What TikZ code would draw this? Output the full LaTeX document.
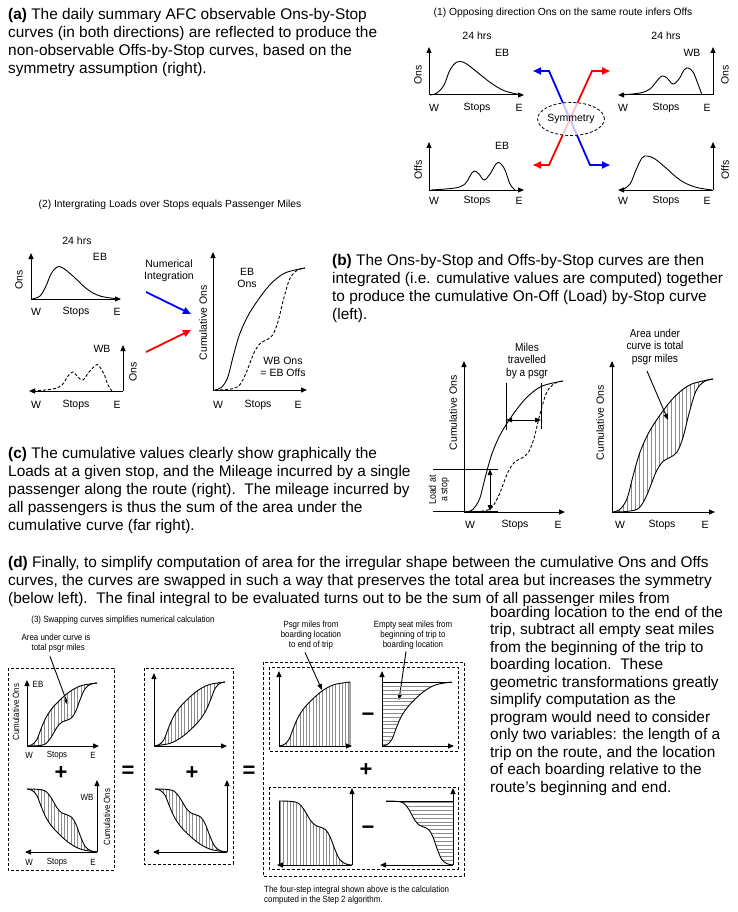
\documentclass[tikz,border=0pt]{standalone}
\usepackage{fontspec}
\setmainfont{Liberation Sans}
\newfontfamily\narrowfont[FakeStretch=0.88]{Liberation Sans}
\usetikzlibrary{arrows.meta,shapes.geometric}
\tikzset{
 body/.style={anchor=base west, inner sep=0pt, font=\fontsize{15.4}{18}\selectfont},
 lbl/.style={inner sep=0pt, font=\fontsize{10.5}{12}\selectfont},
 ttl/.style={inner sep=0pt, font=\fontsize{10.3}{12}\selectfont},
 sml/.style={inner sep=0pt, font=\narrowfont\fontsize{9}{10}\selectfont},
 mid/.style={inner sep=0pt, align=center, font=\narrowfont\fontsize{11.5}{12.5}\selectfont},
 sym/.style={inner sep=0pt, font=\bfseries\fontsize{22}{24}\selectfont},
 axis/.style={line width=1.2pt, -{Triangle[length=7pt,width=6pt]}},
 saxis/.style={line width=1pt, -{Triangle[length=6pt,width=5pt]}},
 crv/.style={line width=0.9pt},
 dcrv/.style={line width=0.9pt, dash pattern=on 3pt off 2pt},
 dbox/.style={line width=0.8pt, dash pattern=on 3pt off 2pt},
 hatch/.style={black!45, line width=1pt},
 ptr/.style={line width=0.9pt, -{Triangle[length=6pt,width=4.5pt]}},
 dptr/.style={line width=0.9pt, {Triangle[length=6pt,width=4.5pt]}-{Triangle[length=6pt,width=4.5pt]}},
 carrow/.style={line width=1.8pt, {Triangle[length=8pt,width=7pt]}-{Triangle[length=8pt,width=7pt]}},
 sarrow/.style={line width=1.8pt, -{Triangle[length=8pt,width=7pt]}},
 Uc/.style={insert path={plot[smooth,tension=0.55] coordinates {(0,0) (0.07,0.02) (0.14,0.1) (0.2,0.27) (0.27,0.45) (0.36,0.6) (0.48,0.74) (0.62,0.87) (0.78,0.96) (1,1)}}},
 Lc/.style={insert path={plot[smooth,tension=0.55] coordinates {(0,0) (0.15,0.005) (0.26,0.03) (0.34,0.13) (0.43,0.3) (0.5,0.38) (0.57,0.41) (0.64,0.45) (0.7,0.56) (0.76,0.74) (0.83,0.91) (0.91,0.98) (1,1)}}},
 Mc/.style={insert path={plot[smooth,tension=0.55] coordinates {(0,0) (0.22,0.04) (0.38,0.13) (0.52,0.26) (0.64,0.4) (0.73,0.55) (0.8,0.73) (0.86,0.9) (0.93,0.98) (1,1)}}},
}
\newcommand\hatchV[1]{\foreach \u in {#1,...,1.0} {\draw[hatch] (\u,-0.2) -- (\u,1.2);}}
\newcommand\hatchH[1]{\foreach \v in {#1,...,1.0} {\draw[hatch] (-0.2,\v) -- (1.2,\v);}}
\begin{document}
\begin{tikzpicture}[x=1pt,y=-1pt]
\useasboundingbox (0,0) rectangle (738,912);
\fill[white] (0,0) rectangle (738,912);

% ---------------- paragraph (a)
\node[body] (pa1) at (8,20) {\textbf{(a)} The daily summary AFC observable Ons-by-Stop};
\node[body] (pa2) at (8,38) {curves (in both directions) are reflected to produce the};
\node[body] (pa3) at (8,56) {non-observable Offs-by-Stop curves, based on the};
\node[body] (pa4) at (8,74) {symmetry assumption (right).};

% ---------------- panel (1)
\node[ttl] (t1) at (563,13) {(1) Opposing direction Ons on the same route infers Offs};
% top-left EB Ons
\draw[saxis] (429,95) -- (429,47);
\draw[saxis] (429,95) -- (524,95);
\draw[crv] plot[smooth,tension=0.6] coordinates {(430,95) (437,93) (444,85) (450,70) (457,62) (465,63) (477,72) (491,83) (505,91) (522,95)};
\node[lbl] (h1) at (477,36) {24 hrs};
\node[lbl] (e1) at (502,53) {EB};
\node[lbl,rotate=90] (o1) at (418,75) {Ons};
\node[lbl] (w1) at (434,108) {W};
\node[lbl] (s1) at (477,108) {Stops};
\node[lbl] (ee1) at (519,108) {E};
% top-right WB Ons
\draw[saxis] (713,95) -- (713,47);
\draw[saxis] (713,95) -- (618,95);
\draw[crv] plot[smooth,tension=0.6] coordinates {(621,95) (640,93) (650,89) (656,82) (662,76) (667,78) (673,84) (679,79) (684,70) (688,68) (693,72) (698,84) (702,95)};
\node[lbl] (h2) at (666,36) {24 hrs};
\node[lbl] (e2) at (692,53) {WB};
\node[lbl,rotate=90] (o2) at (725,75) {Ons};
\node[lbl] (w2) at (623,108) {W};
\node[lbl] (s2) at (666,108) {Stops};
\node[lbl] (ee2) at (707,108) {E};
% bottom-left EB Offs
\draw[saxis] (429,190) -- (429,142);
\draw[saxis] (429,190) -- (524,190);
\draw[crv] plot[smooth,tension=0.6] coordinates {(431,190) (455,188) (465,184) (470,176) (474,171) (479,174) (484,180) (490,174) (496,164) (500,163) (505,170) (510,184) (515,190)};
\node[lbl] (e3) at (502,146) {EB};
\node[lbl,rotate=90] (o3) at (418,170) {Offs};
\node[lbl] (w3) at (434,201) {W};
\node[lbl] (s3) at (477,201) {Stops};
\node[lbl] (ee3) at (519,201) {E};
% bottom-right WB Offs
\draw[saxis] (713,190) -- (713,142);
\draw[saxis] (713,190) -- (618,190);
\draw[crv] plot[smooth,tension=0.6] coordinates {(622,190) (630,184) (636,170) (642,158) (647,156) (655,159) (666,168) (680,180) (695,187) (712,190)};
\node[lbl,rotate=90] (o4) at (725,170) {Offs};
\node[lbl] (w4) at (623,201) {W};
\node[lbl] (s4) at (666,201) {Stops};
\node[lbl] (ee4) at (707,201) {E};
% symmetry arrows
\coordinate (bA) at (533,71); \coordinate (bB) at (549,71);
\coordinate (bC) at (590,165); \coordinate (bD) at (610,165);
\coordinate (rA) at (533,165); \coordinate (rB) at (549,165);
\coordinate (rC) at (592,71); \coordinate (rD) at (610,71);
\draw[carrow, blue] (bA) -- (bB) -- (bC) -- (bD);
\draw[carrow, red] (rA) -- (rB) -- (rC) -- (rD);
\node[ellipse, draw, dbox, fill=white, fill opacity=0.75, text opacity=1, minimum width=64pt, minimum height=33pt, inner sep=0pt, font=\fontsize{10.5}{12}\selectfont] (symm) at (571,119) {Symmetry};

% ---------------- panel (2)
\node[ttl] (t2) at (170,205) {(2) Intergrating Loads over Stops equals Passenger Miles};
% EB ons
\draw[saxis] (31,299) -- (31,253);
\draw[saxis] (31,299) -- (121,299);
\draw[crv] plot[smooth,tension=0.6] coordinates {(32,299) (40,296) (46,286) (51,274) (57,267) (63,268) (74,277) (87,289) (100,296) (119,299)};
\node[lbl] (h5) at (77,241) {24 hrs};
\node[lbl] (e5) at (100,257) {EB};
\node[lbl,rotate=90] (o5) at (19,280) {Ons};
\node[lbl] (w5) at (36,312) {W};
\node[lbl] (s5) at (76,312) {Stops};
\node[lbl] (ee5) at (117,312) {E};
% WB ons dashed
\draw[saxis] (123,391) -- (123,345);
\draw[saxis] (123,391) -- (29,391);
\draw[dcrv] plot[smooth,tension=0.6] coordinates {(33,391) (53,389) (62,385) (68,376) (73,372) (78,377) (83,380) (89,372) (96,365) (99,366) (104,374) (108,385) (112,391)};
\node[lbl] (e6) at (102,349) {WB};
\node[lbl,rotate=90] (o6) at (133,372) {Ons};
\node[lbl] (w6) at (36,405) {W};
\node[lbl] (s6) at (76,405) {Stops};
\node[lbl] (ee6) at (117,405) {E};
% integration arrows
\node[lbl, align=center] (numint) at (169,271) {Numerical\\Integration};
\coordinate (nb1) at (146,292); \coordinate (nb2) at (191,314);
\coordinate (nr1) at (146,352); \coordinate (nr2) at (191,330);
\draw[sarrow, blue] (nb1) -- (nb2);
\draw[sarrow, red] (nr1) -- (nr2);
% cumulative chart
\begin{scope}[shift={(215,390)}, x=90pt, y=122pt]
 \draw[crv, Uc];
 \draw[dcrv, Lc];
\end{scope}
\draw[saxis] (213,390) -- (213,252);
\draw[saxis] (213,390) -- (307,390);
\node[lbl,rotate=90] (c7) at (203,323) {Cumulative Ons};
\node[lbl, align=center] (e7) at (247,278) {EB\\Ons};
\node[lbl, align=center] (wb7) at (283,367) {WB Ons\\= EB Offs};
\node[lbl] (w7) at (218,405) {W};
\node[lbl] (s7) at (258,405) {Stops};
\node[lbl] (ee7) at (298,405) {E};

% ---------------- paragraph (b)
\node[body] (pb1) at (332,265.5) {\textbf{(b)} The Ons-by-Stop and Offs-by-Stop curves are then};
\node[body] (pb2) at (332,283.5) {integrated (i.e. cumulative values are computed) together};
\node[body] (pb3) at (332,301.5) {to produce the cumulative On-Off (Load) by-Stop curve};
\node[body] (pb4) at (332,319.5) {(left).};

% ---------------- panel (c) left chart
\begin{scope}[shift={(466,512)}, x=97pt, y=131pt]
 \draw[crv, Uc];
 \draw[dcrv, Lc];
\end{scope}
\draw[saxis] (464,512) -- (464,361);
\draw[saxis] (464,512) -- (565,512);
\node[lbl,rotate=90] (c8) at (453,413) {Cumulative Ons};
\node[mid] (miles) at (527,361) {Miles\\travelled\\by a psgr};
\draw[crv] (506,383) -- (506,430);
\draw[crv] (541,383) -- (541,429);
\coordinate (m1) at (506,420); \coordinate (m2) at (541,420);
\draw[dptr] (m1) -- (m2);
\draw[crv] (433,469) -- (498,469);
\draw[crv] (433,511) -- (498,511);
\coordinate (l1) at (490,469); \coordinate (l2) at (490,511);
\draw[dptr] (l1) -- (l2);
\node[inner sep=0pt, align=center, font=\narrowfont\fontsize{10}{11.5}\selectfont, rotate=90] (load) at (439,490) {Load at\\a stop};
\node[lbl] (w8) at (470,525) {W};
\node[lbl] (s8) at (515,525) {Stops};
\node[lbl] (ee8) at (558,525) {E};

% ---------------- panel (c) right chart
\begin{scope}[shift={(613,512)}, x=100pt, y=133pt]
 \begin{scope}
  \clip[Uc] -- (1,0) -- cycle;
  \clip[Lc] -- (1,2) -- (-1,2) -- cycle;
  \hatchV{0.02,0.06}
 \end{scope}
 \draw[crv, Uc];
 \draw[crv, Lc];
\end{scope}
\draw[saxis] (612,512) -- (612,361);
\draw[saxis] (612,512) -- (715,512);
\node[lbl,rotate=90] (c9) at (600,423) {Cumulative Ons};
\node[mid] (area9) at (655,347) {Area under\\curve is total\\psgr miles};
\coordinate (at9) at (668,420);
\draw[ptr] ([xshift=-8pt,yshift=-6pt]area9.south) -- (at9);
\node[lbl] (w9) at (620,525) {W};
\node[lbl] (s9) at (662,525) {Stops};
\node[lbl] (ee9) at (705,525) {E};

% ---------------- paragraph (c)
\node[body] (pc1) at (8,458) {\textbf{(c)} The cumulative values clearly show graphically the};
\node[body] (pc2) at (8,476) {Loads at a given stop, and the Mileage incurred by a single};
\node[body] (pc3) at (8,494) {passenger along the route (right).\ \ The mileage incurred by};
\node[body] (pc4) at (8,512) {all passengers is thus the sum of the area under the};
\node[body] (pc5) at (8,530) {cumulative curve (far right).};

% ---------------- paragraph (d)
\node[body] (pd1) at (8,567) {\textbf{(d)} Finally, to simplify computation of area for the irregular shape between the cumulative Ons and Offs};
\node[body] (pd2) at (8,585) {curves, the curves are swapped in such a way that preserves the total area but increases the symmetry};
\node[body] (pd3) at (8,603) {(below left).\ \ The final integral to be evaluated turns out to be the sum of all passenger miles from};
\node[body] (pr1) at (490,617) {boarding location to the end of the};
\node[body] (pr2) at (490,634.5) {trip, subtract all empty seat miles};
\node[body] (pr3) at (490,652) {from the beginning of the trip to};
\node[body] (pr4) at (490,669.5) {boarding location.\ \ These};
\node[body] (pr5) at (490,687) {geometric transformations greatly};
\node[body] (pr6) at (490,704.5) {simplify computation as the};
\node[body] (pr7) at (490,722) {program would need to consider};
\node[body] (pr8) at (490,739.5) {only two variables: the length of a};
\node[body] (pr9) at (490,757) {trip on the route, and the location};
\node[body] (pr10) at (490,774.5) {of each boarding relative to the};
\node[body] (pr11) at (490,792) {route’s beginning and end.};

% ---------------- panel (3)
\node[sml] (t3) at (123,620) {(3) Swapping curves simplifies numerical calculation};
\node[sml, align=center] (area3) at (56,643) {Area under curve is\\\ \ total psgr miles};
\coordinate (at3) at (68,705);
\draw[ptr] ([xshift=-6pt,yshift=-4pt]area3.south) -- (at3);
% box 1
\draw[dbox] (8,668) rectangle (114,870);
\begin{scope}[shift={(27,746)}, x=70pt, y=63pt]
 \begin{scope}
  \clip[Uc] -- (1,0) -- cycle;
  \clip[Lc] -- (1,2) -- (-1,2) -- cycle;
  \hatchV{0.02,0.067}
 \end{scope}
 \draw[crv, Uc];
 \draw[crv, Lc];
\end{scope}
\draw[saxis] (27,746) -- (27,680);
\draw[saxis] (27,746) -- (99,746);
\node[sml,rotate=90] (c10) at (16,712) {Cumulative Ons};
\node[sml] (e10) at (38,684) {EB};
\node[sml] (w10) at (29,755) {W};
\node[sml] (s10) at (57,755) {Stops};
\node[sml] (ee10) at (93,755) {E};
\node[sym] (plus1) at (61,773) {+};
\begin{scope}[shift={(27,789)}, x=70pt, y=-63pt]
 \begin{scope}
  \clip[Uc] -- (1,0) -- cycle;
  \clip[Lc] -- (1,2) -- (-1,2) -- cycle;
  \hatchV{0.02,0.067}
 \end{scope}
 \draw[crv, Uc];
 \draw[crv, Lc];
\end{scope}
\draw[saxis] (97,852) -- (97,780);
\draw[saxis] (97,852) -- (25,852);
\node[sml,rotate=90] (c11) at (107,817) {Cumulative Ons};
\node[sml] (e11) at (87,797) {WB};
\node[sml] (w11) at (29,862) {W};
\node[sml] (s11) at (57,862) {Stops};
\node[sml] (ee11) at (93,862) {E};
\node[sym] (eq1) at (128,772) {=};
% box 2
\draw[dbox] (144,668) rectangle (233,864);
\begin{scope}[shift={(154,746)}, x=71pt, y=64pt]
 \begin{scope}
  \clip[Uc] -- (1,0) -- cycle;
  \clip[Mc] -- (1,2) -- (-1,2) -- cycle;
  \hatchV{0.02,0.066}
 \end{scope}
 \draw[crv, Uc];
 \draw[crv, Mc];
\end{scope}
\draw[saxis] (154,746) -- (154,673);
\draw[saxis] (154,746) -- (227,746);
\node[sym] (plus2) at (192,773) {+};
\begin{scope}[shift={(155,789)}, x=72pt, y=-63pt]
 \begin{scope}
  \clip[Uc] -- (1,0) -- cycle;
  \clip[Lc] -- (1,2) -- (-1,2) -- cycle;
  \hatchV{0.02,0.066}
 \end{scope}
 \draw[crv, Uc];
 \draw[crv, Lc];
\end{scope}
\draw[saxis] (227,852) -- (227,780);
\draw[saxis] (227,852) -- (153,852);
\node[sym] (eq2) at (249,772) {=};
% big box
\draw[dbox] (263,662) rectangle (464,876);
\draw[dbox] (269,667) rectangle (458,751);
\draw[dbox] (269,787) rectangle (458,869);
\node[sml, align=center] (psgr) at (311,635) {Psgr miles from\\boarding location\\to end of trip};
\node[sml, align=center] (empty) at (413,635) {Empty seat miles from\\beginning of trip to\\boarding location};
\coordinate (pt1) at (322,690);
\coordinate (pt2) at (399,700);
\draw[ptr] ([xshift=-6pt,yshift=-3pt]psgr.south) -- (pt1);
\draw[ptr] ([xshift=-7pt,yshift=-2pt]empty.south) -- (pt2);
% top-left
\begin{scope}[shift={(279,746)}, x=71pt, y=64pt]
 \begin{scope}
  \clip[Uc] -- (1,0) -- cycle;
  \hatchV{0.02,0.066}
 \end{scope}
 \draw[crv, Uc] -- (1,0);
\end{scope}
\draw[saxis] (279,746) -- (279,671);
\draw[saxis] (279,746) -- (352,746);
\node[sym] (minus1) at (368,717) {−};
% top-right
\begin{scope}[shift={(382,746)}, x=70pt, y=64pt]
 \begin{scope}
  \clip[Uc] -- (0,1) -- cycle;
  \hatchH{0.03,0.09}
 \end{scope}
 \draw[crv, Uc];
 \draw[crv] (0,1) -- (1,1);
\end{scope}
\draw[saxis] (382,746) -- (382,671);
\draw[saxis] (382,746) -- (454,746);
\node[sym] (plus3) at (366,770) {+};
% bottom-left
\begin{scope}[shift={(279,801)}, x=73pt, y=-64pt]
 \begin{scope}
  \clip[Lc] -- (0,1) -- cycle;
  \hatchV{0.02,0.065}
 \end{scope}
 \draw[crv, Lc];
 \draw[crv] (0,0) -- (0,1);
\end{scope}
\draw[saxis] (352,865) -- (352,788);
\draw[saxis] (352,865) -- (277,865);
\node[sym] (minus2) at (368,830) {−};
% bottom-right
\begin{scope}[shift={(386,801)}, x=67pt, y=-64pt]
 \begin{scope}
  \clip[Lc] -- (1,0) -- cycle;
  \hatchH{0.03,0.09}
 \end{scope}
 \draw[crv, Lc];
 \draw[crv] (0,0) -- (1,0);
\end{scope}
\draw[saxis] (453,865) -- (453,788);
\draw[saxis] (453,865) -- (380,865);
% caption
\node[sml, anchor=west] (cap1) at (264,890) {The four-step integral shown above is the calculation};
\node[sml, anchor=west] (cap2) at (264,900) {computed in the Step 2 algorithm.};
\end{tikzpicture}
\end{document}
